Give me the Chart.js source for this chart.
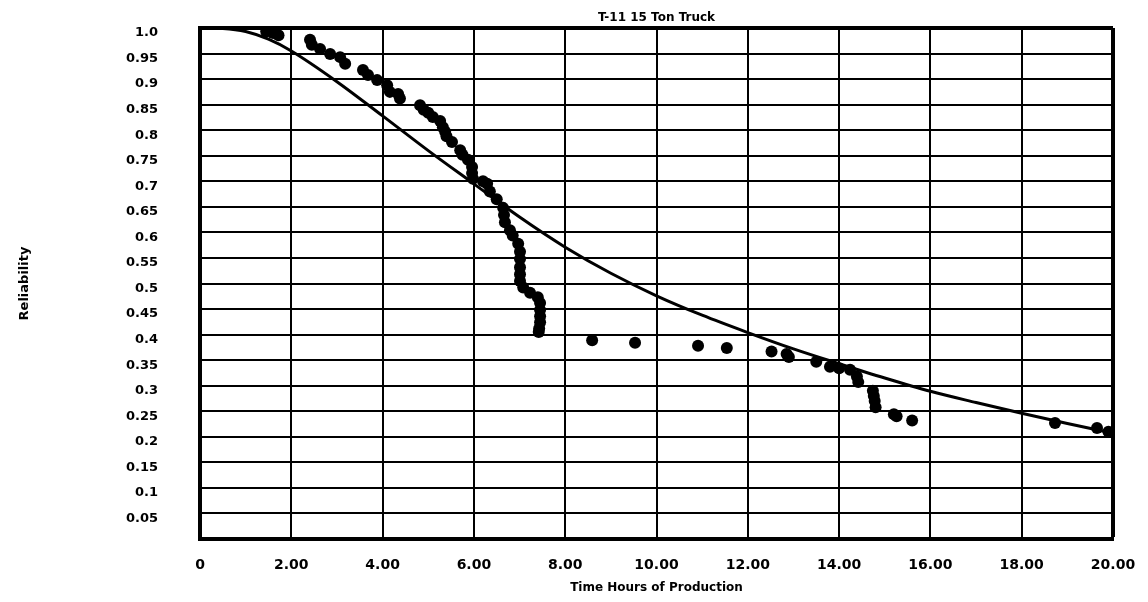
<!DOCTYPE html>
<html>
<head>
<meta charset="utf-8">
<script src="https://cdn.jsdelivr.net/npm/chart.js@4/dist/chart.umd.min.js"></script>
<style>
  html, body { margin: 0; padding: 0; background: #ffffff; }
  #wrap { width: 1148px; height: 602px; }
</style>
</head>
<body>
<div id="wrap"><canvas id="c" width="1148" height="602"></canvas></div>
<script>
// ---- data ----
const chartTitle = 'T-11 15 Ton Truck';
const xTitle = 'Time Hours of Production';
const yTitle = 'Reliability';

const xTickLabels = ['0', '2.00', '4.00', '6.00', '8.00', '10.00', '12.00', '14.00', '16.00', '18.00', '20.00'];
const yTickLabels = ['', '0.05', '0.1', '0.15', '0.2', '0.25', '0.3', '0.35', '0.4', '0.45', '0.5',
                     '0.55', '0.6', '0.65', '0.7', '0.75', '0.8', '0.85', '0.9', '0.95', '1.0'];

// observed reliability points (time, reliability)
const obsTime = [1.45, 1.6, 1.72, 2.41, 2.45, 2.63, 2.85, 3.07, 3.18, 3.57, 3.68, 3.88, 4.1, 4.16, 4.34, 4.38,
  4.82, 4.9, 5.0, 5.1, 5.26, 5.32, 5.37, 5.4, 5.52, 5.7, 5.75, 5.87, 5.96, 5.96, 5.98, 6.2, 6.29, 6.35,
  6.5, 6.64, 6.66, 6.68, 6.79, 6.85, 6.97, 7.01, 7.01, 7.01, 7.01, 7.01, 7.08, 7.23, 7.4, 7.45, 7.45,
  7.45, 7.45, 7.43, 7.42, 8.59, 9.53, 10.91, 11.54, 12.52, 12.85, 12.9, 13.5, 13.8, 14.0, 14.24, 14.39,
  14.42, 14.74, 14.76, 14.78, 14.8, 15.2, 15.26, 15.6, 18.73, 19.65, 19.9];
const obsRel = [0.993, 0.99, 0.986, 0.977, 0.967, 0.959, 0.949, 0.943, 0.93, 0.918, 0.908, 0.898, 0.888, 0.875, 0.871, 0.862,
  0.849, 0.84, 0.834, 0.826, 0.818, 0.806, 0.797, 0.788, 0.777, 0.761, 0.752, 0.742, 0.728, 0.716, 0.705, 0.7, 0.695, 0.68,
  0.665, 0.648, 0.634, 0.62, 0.604, 0.594, 0.578, 0.562, 0.548, 0.532, 0.518, 0.505, 0.492, 0.482, 0.473, 0.462, 0.448,
  0.436, 0.424, 0.412, 0.405, 0.389, 0.384, 0.378, 0.374, 0.367, 0.362, 0.356, 0.347, 0.337, 0.334, 0.331, 0.318,
  0.307, 0.29, 0.28, 0.27, 0.258, 0.244, 0.24, 0.232, 0.227, 0.217, 0.21];

// fitted reliability curve
const fitTime = [0, 0.5, 1, 1.5, 2, 3, 4, 5, 6, 7, 8, 9, 10, 11, 12, 13, 14, 15, 16, 17, 18, 19, 20];
const fitRel  = [1.0, 0.999, 0.993, 0.978, 0.955, 0.895, 0.828, 0.76, 0.695, 0.63, 0.571, 0.52, 0.476, 0.438,
                 0.404, 0.372, 0.343, 0.315, 0.289, 0.267, 0.246, 0.226, 0.207];

// ---- chart ----
const FONT = "'DejaVu Sans', 'Liberation Sans', Arial, sans-serif";
const obsPoints = obsTime.map((t, i) => ({ x: t, y: obsRel[i] }));
const fitPoints = fitTime.map((t, i) => ({ x: t, y: fitRel[i] }));

new Chart(document.getElementById('c'), {
  type: 'scatter',
  data: {
    datasets: [
      {
        label: 'Observed',
        data: obsPoints,
        pointRadius: 6,
        pointHoverRadius: 6,
        backgroundColor: '#000000',
        borderColor: '#000000',
        borderWidth: 0,
        order: 1
      },
      {
        label: 'Fit',
        data: fitPoints,
        showLine: true,
        pointRadius: 0,
        borderColor: '#000000',
        borderWidth: 3,
        cubicInterpolationMode: 'monotone',
        fill: false,
        order: 2
      }
    ]
  },
  options: {
    responsive: false,
    animation: false,
    layout: { padding: { left: 0, right: 35, top: 0, bottom: 0 } },
    plugins: {
      legend: { display: false },
      tooltip: { enabled: false },
      title: {
        display: true,
        text: chartTitle,
        fullSize: false,
        color: '#000000',
        font: { family: FONT, size: 12, weight: 'bold' },
        padding: { top: 11, bottom: 2.6 }
      }
    },
    scales: {
      x: {
        type: 'linear',
        min: 0,
        max: 20,
        afterFit: (s) => { s.height = 63; s.paddingLeft = 0; s.paddingRight = 0; },
        ticks: {
          stepSize: 2,
          padding: 18,
          color: '#000000',
          maxRotation: 0,
          autoSkip: false,
          font: { family: FONT, size: 14, weight: 'bold' },
          callback: (v, i) => xTickLabels[i]
        },
        grid: {
          color: '#000000',
          lineWidth: (ctx) => (ctx.tick && ctx.tick.value === 20 ? 4 : 2),
          drawTicks: false
        },
        border: { display: true, color: '#000000', width: 4 },
        title: {
          display: true,
          text: xTitle,
          color: '#000000',
          font: { family: FONT, size: 12, weight: 'bold' },
          padding: { top: 0, bottom: 7 }
        }
      },
      y: {
        type: 'linear',
        min: 0,
        max: 1,
        afterFit: (s) => { s.width = 200; s.paddingTop = 0; s.paddingBottom = 0; },
        ticks: {
          stepSize: 0.05,
          padding: 42,
          labelOffset: 5,
          color: '#000000',
          autoSkip: false,
          font: { family: FONT, size: 13, weight: 'bold' },
          callback: (v, i) => yTickLabels[i]
        },
        grid: {
          color: '#000000',
          lineWidth: (ctx) => (ctx.tick && Math.abs(ctx.tick.value - 1) < 1e-9 ? 4 : 2),
          drawTicks: false
        },
        border: { display: true, color: '#000000', width: 4 },
        title: {
          display: true,
          text: yTitle,
          color: '#000000',
          font: { family: FONT, size: 13, weight: 'bold' },
          padding: { top: 17, bottom: 0 }
        }
      }
    }
  }
});
</script>
</body>
</html>
